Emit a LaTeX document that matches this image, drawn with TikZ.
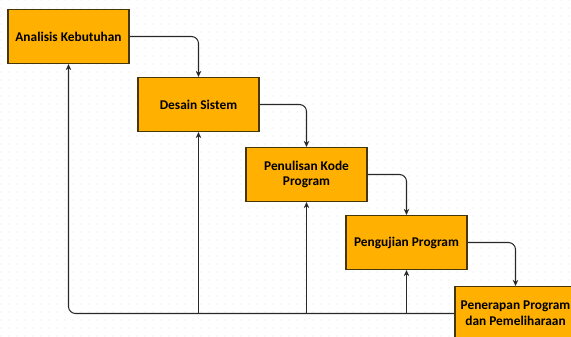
\documentclass[tikz,border=0pt]{standalone}
\usepackage{fontspec}
\setmainfont{Carlito}
\usepackage{tikz}
\usetikzlibrary{arrows.meta,positioning}
\usepackage{xcolor}
\definecolor{boxfill}{RGB}{255,176,0}
\definecolor{boxline}{RGB}{70,55,10}
\definecolor{wireline}{RGB}{40,40,40}
\definecolor{griddot}{RGB}{228,228,228}

\begin{document}
\begin{tikzpicture}[x=0.02cm, y=-0.02cm,
    phase/.style={rectangle, draw=boxline, fill=boxfill, line width=0.7pt,
                minimum width=2.42cm, minimum height=1.08cm,
                align=center, font=\fontsize{7.6}{9}\selectfont\bfseries, inner sep=2pt},
    arr/.style={-{Stealth[length=1.2mm,width=1.1mm]}, line width=0.6pt, wireline}
]
    \clip (0,0) rectangle (571,336);
    \fill[white] (0,0) rectangle (571,336);
    % dotted background
    \foreach \gx in {1,9,...,569}
      \foreach \gy in {0,8,...,336}
        \fill[griddot] (\gx,\gy) circle (0.6);

    \node[phase] (analisis) at ( 68.5, 36.5) {Analisis Kebutuhan};
    \node[phase] (desain)   at (198.5,104.5) {Desain Sistem};
    \node[phase] (kode)     at (306.5,174.5) {Penulisan Kode\\Program};
    \node[phase] (uji)      at (406.5,242.5) {Pengujian Program};
    \node[phase] (terap)    at (515.5,313.5) {Penerapan Program\\dan Pemeliharaan};

    % forward flow
    \draw[arr, rounded corners=4pt] (analisis.east) -| (desain.north);
    \draw[arr, rounded corners=4pt] (desain.east)   -| (kode.north);
    \draw[arr, rounded corners=4pt] (kode.east)     -| (uji.north);
    \draw[arr, rounded corners=4pt] (uji.east)      -| (terap.north);

    % feedback
    \draw[arr, rounded corners=4pt] (terap.west) -| (analisis.south);
    \draw[arr] (desain.south |- terap.west) -- (desain.south);
    \draw[arr] (kode.south |- terap.west)   -- (kode.south);
    \draw[arr] (uji.south |- terap.west)    -- (uji.south);
\end{tikzpicture}
\end{document}
